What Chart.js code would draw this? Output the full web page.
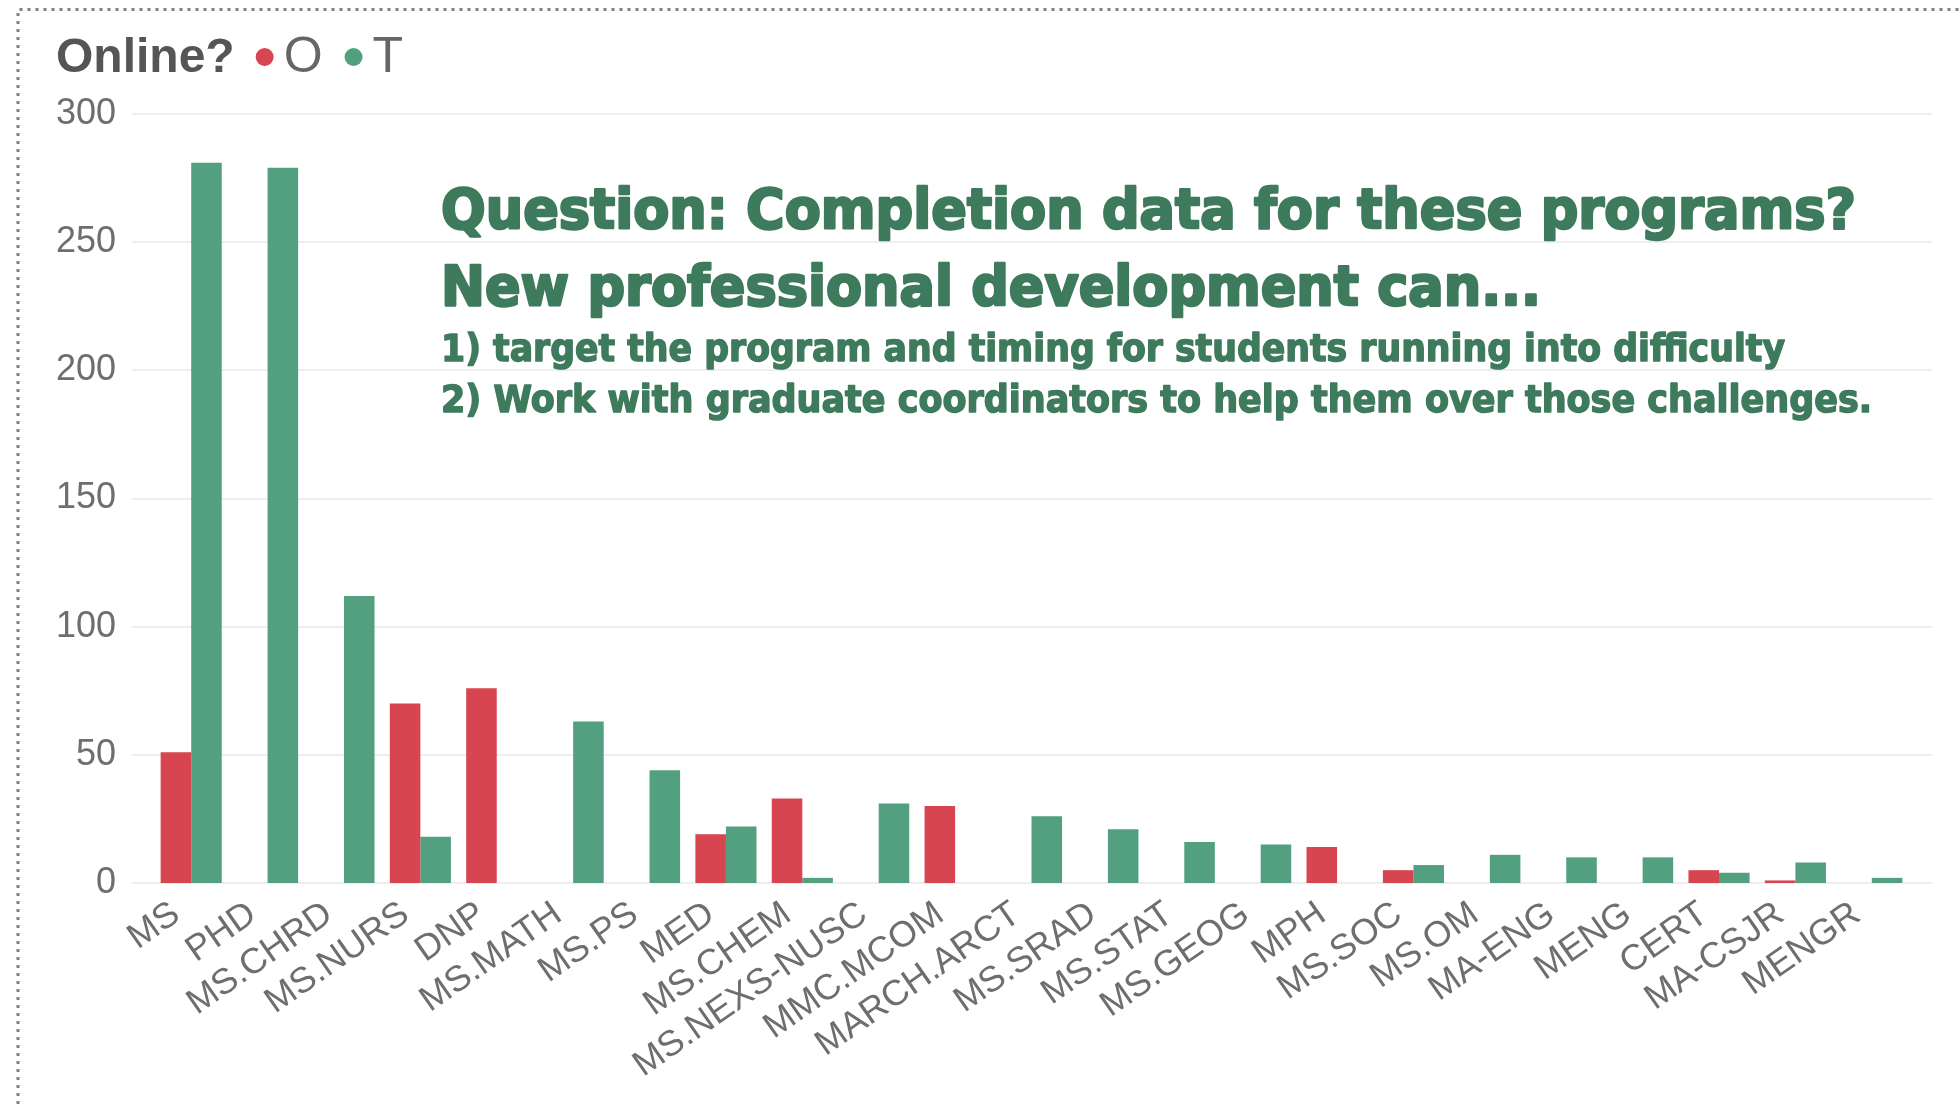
<!DOCTYPE html>
<html>
<head>
<meta charset="utf-8">
<title>Online? O / T by program</title>
<script src="https://cdn.jsdelivr.net/npm/chart.js@4.4.1/dist/chart.umd.min.js"></script>
<style>
  html, body { margin: 0; padding: 0; background: #fff; }
  #wrap { position: relative; width: 1960px; height: 1104px; }
</style>
</head>
<body>
<div id="wrap"><canvas id="chart"></canvas></div>
<script>
// ── Data ──────────────────────────────────────────────
const PROGRAMS = [
  'MS', 'PHD', 'MS.CHRD', 'MS.NURS', 'DNP', 'MS.MATH', 'MS.PS', 'MED',
  'MS.CHEM', 'MS.NEXS-NUSC', 'MMC.MCOM', 'MARCH.ARCT', 'MS.SRAD', 'MS.STAT',
  'MS.GEOG', 'MPH', 'MS.SOC', 'MS.OM', 'MA-ENG', 'MENG', 'CERT', 'MA-CSJR', 'MENGR',
];
const ONLINE_O = [51, null, null, 70, 76, null, null, 19, 33, null, 30, null, null, null, null, 14, 5, null, null, null, 5, 1, null];
const ONLINE_T = [281, 279, 112, 18, null, 63, 44, 22, 2, 31, null, 26, 21, 16, 15, null, 7, 11, 10, 10, 4, 8, 2];
const SERIES_LABELS = ['O', 'T'];
const LEGEND_TITLE = 'Online?';
const Y_MAX = 300;
const Y_STEP = 50;
const NOTE_LINES = [
  'Question: Completion data for these programs?',
  'New professional development can...',
  '1) target the program and timing for students running into difficulty',
  '2) Work with graduate coordinators to help them over those challenges.',
];

const COLORS = {
  red:    '#D64550',
  green:  '#53A080',
  note:   '#3E7A5C',
  tick:   '#6E6E6E',
  legend: '#555555',
  legendItem: '#666666',
  grid:   '#EEEEEE',
  frame:  '#808080',
};

const FONT = '"Liberation Sans", Arial, sans-serif';
Chart.defaults.font.family = FONT;

// ── Dotted frame round the visual ─────────────────────
const framePlugin = {
  id: 'frame',
  beforeDraw(chart) {
    const { ctx, width, height } = chart;
    ctx.save();
    ctx.strokeStyle = COLORS.frame;
    ctx.lineWidth = 3;
    ctx.setLineDash([3, 5]);
    ctx.beginPath();
    ctx.moveTo(18, height);
    ctx.lineTo(18, 9.5);
    ctx.lineTo(width, 9.5);
    ctx.stroke();
    ctx.restore();
  },
};

// ── Horizontal gridlines, a bit wider than the plot ───
const gridPlugin = {
  id: 'wideGrid',
  beforeDatasetsDraw(chart) {
    const { ctx, chartArea } = chart;
    const y = chart.scales.y;
    ctx.save();
    ctx.fillStyle = COLORS.grid;
    y.ticks.forEach(t => {
      const py = Math.round(y.getPixelForValue(t.value));
      ctx.fillRect(chartArea.left - 21, py - 1, chartArea.right - chartArea.left + 43, 2);
    });
    ctx.restore();
  },
};

// ── Legend: "Online?  ● O  ● T" ───────────────────────
const legendPlugin = {
  id: 'topLegend',
  afterDraw(chart) {
    const { ctx } = chart;
    const base = 72;
    let x = 56;
    ctx.save();
    ctx.textBaseline = 'alphabetic';
    ctx.font = `bold 48px ${FONT}`;
    ctx.fillStyle = COLORS.legend;
    ctx.fillText(LEGEND_TITLE, x, base);
    x += ctx.measureText(LEGEND_TITLE).width + 21;
    chart.data.datasets.forEach(ds => {
      ctx.beginPath();
      ctx.arc(x + 9, 57, 9, 0, Math.PI * 2);
      ctx.fillStyle = ds.backgroundColor;
      ctx.fill();
      x += 28;
      ctx.font = `50px ${FONT}`;
      ctx.fillStyle = COLORS.legendItem;
      ctx.fillText(ds.label, x, base);
      x += ctx.measureText(ds.label).width + 22;
    });
    ctx.restore();
  },
};

// ── Annotation text over the plot (heavy, stretched to width) ──
const notePlugin = {
  id: 'note',
  afterDraw(chart) {
    const { ctx } = chart;
    const baselines = [228, 305, 361, 412];
    const sizes = [56, 56, 37, 37];
    const widths = [1415, 1100, 1344, 1431];
    ctx.save();
    ctx.fillStyle = COLORS.note;
    ctx.strokeStyle = COLORS.note;
    ctx.lineJoin = 'round';
    ctx.textBaseline = 'alphabetic';
    NOTE_LINES.forEach((line, i) => {
      ctx.font = `bold ${sizes[i]}px "DejaVu Sans", sans-serif`;
      const sx = widths[i] / ctx.measureText(line).width;
      ctx.save();
      ctx.translate(441, baselines[i]);
      ctx.scale(sx, 1);
      ctx.lineWidth = i < 2 ? 2.6 : 1.5;
      ctx.strokeText(line, 0, 0);
      ctx.fillText(line, 0, 0);
      ctx.restore();
    });
    ctx.restore();
  },
};

new Chart(document.getElementById('chart'), {
  type: 'bar',
  data: {
    labels: PROGRAMS,
    datasets: [
      { label: SERIES_LABELS[0], data: ONLINE_O, backgroundColor: COLORS.red },
      { label: SERIES_LABELS[1], data: ONLINE_T, backgroundColor: COLORS.green },
    ].map(d => ({ ...d, borderWidth: 0, categoryPercentage: 0.8, barPercentage: 1.0 })),
  },
  options: {
    responsive: true,
    maintainAspectRatio: false,
    animation: false,
    layout: { padding: { top: 114, right: 50, bottom: 0, left: 0 } },
    plugins: {
      legend:  { display: false },
      tooltip: { enabled: false },
    },
    scales: {
      x: {
        grid:   { display: false },
        border: { display: false },
        ticks: {
          color: COLORS.tick,
          font: { size: 36 },
          minRotation: 35,
          maxRotation: 35,
          autoSkip: false,
          padding: 2,
          labelOffset: -15,
        },
        afterFit: s => { s.height = 221; },
      },
      y: {
        min: 0,
        max: Y_MAX,
        grid:   { display: false },
        border: { display: false },
        ticks: {
          stepSize: Y_STEP,
          color: COLORS.tick,
          font: { size: 36 },
          padding: 29,
        },
        afterFit: s => { s.width = 153; },
      },
    },
  },
  plugins: [framePlugin, gridPlugin, legendPlugin, notePlugin],
});
</script>
</body>
</html>
